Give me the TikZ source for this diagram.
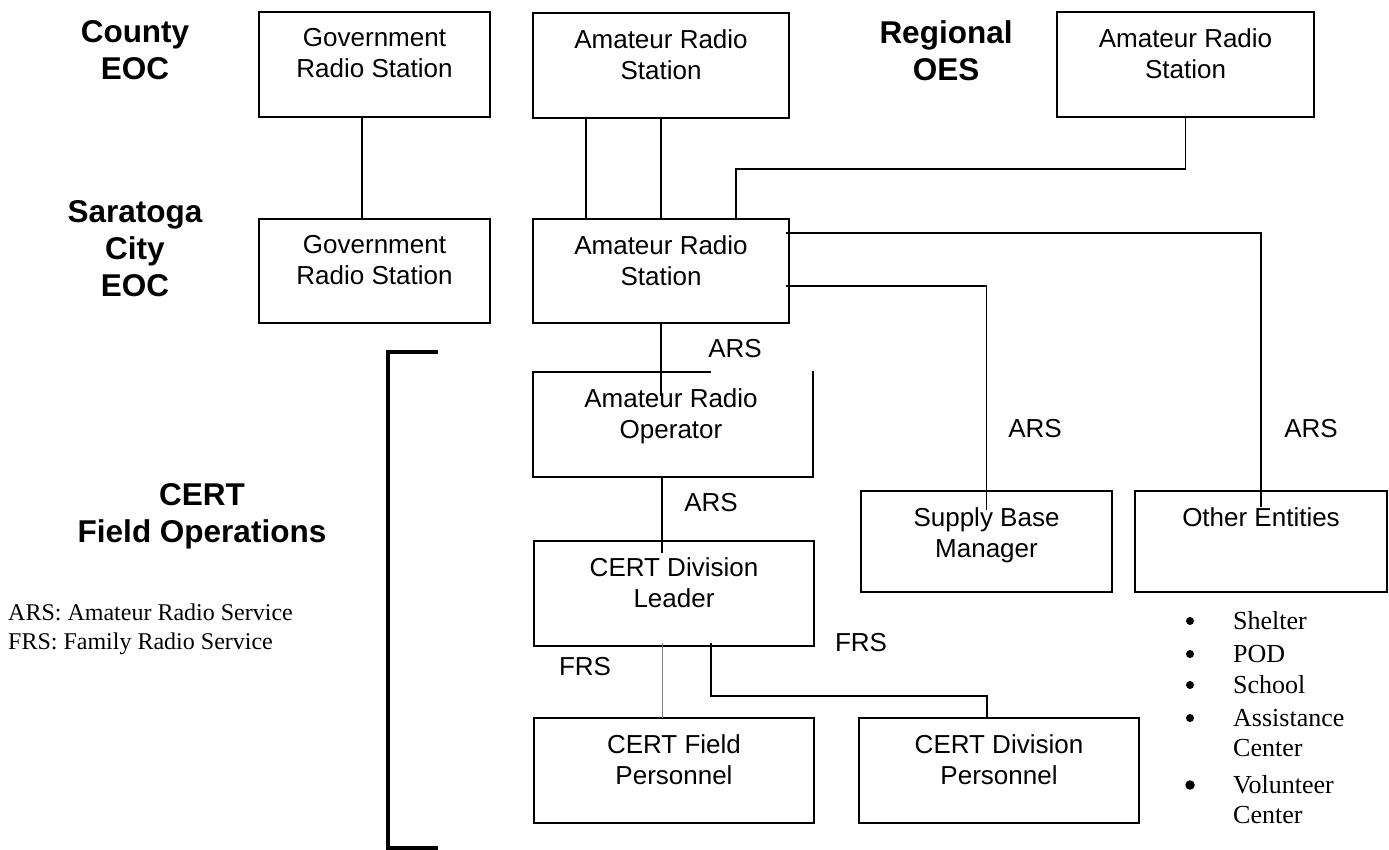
\documentclass[tikz,border=0pt]{standalone}
\usepackage{fontspec}
\setmainfont{Liberation Sans}
\newfontfamily\tnr{Liberation Serif}
\usetikzlibrary{calc}
\begin{document}
\begin{tikzpicture}[x=1pt,y=-1pt,
  box/.style={draw, line width=2.8pt, inner sep=0pt, outer sep=0pt},
  btext/.style={font=\fontsize{26}{31}\selectfont, align=center, inner sep=0pt, anchor=north},
  lbl/.style={font=\fontsize{26}{31}\selectfont, inner sep=0pt},
  head/.style={font=\fontsize{31.5}{37}\selectfont\bfseries, align=center, inner sep=0pt, anchor=north},
  conn/.style={line width=1.4pt},
  faint/.style={line width=0.8pt, gray},
  ltext/.style={font=\tnr\fontsize{26}{32}\selectfont, inner sep=0pt, anchor=base west},
  bul/.style={circle, fill=black, inner sep=0pt, minimum size=8pt},
  legend/.style={font=\tnr\fontsize{24}{29}\selectfont, inner sep=0pt, anchor=base west}]
\useasboundingbox (0,0) rectangle (1389,850);

% headings
\node[head] (hc) at (135,20) {County\\EOC};
\node[head] (hs) at (135,200) {Saratoga\\City\\EOC};
\node[head] (hr) at (946,20) {Regional\\OES};
\node[head] (hf) at (202,483) {CERT\\Field Operations};

% boxes
\node[box, minimum width=231pt, minimum height=105pt] (g1) at (374.5,64.5) {};
\node[box, minimum width=231pt, minimum height=104pt] (g2) at (374.5,271) {};
\node[box, minimum width=256pt, minimum height=105pt] (a1) at (661,65.5) {};
\node[box, minimum width=256pt, minimum height=104pt] (a2) at (661,271) {};
\node[box, minimum width=257pt, minimum height=105pt] (r1) at (1185.5,64.5) {};
\node[box, minimum width=280pt, minimum height=105pt] (op) at (673,424.5) {};
\node[box, minimum width=280pt, minimum height=105pt] (ld) at (674,593.5) {};
\node[box, minimum width=251pt, minimum height=101pt] (sb) at (986.5,541.5) {};
\node[box, minimum width=252pt, minimum height=101pt] (oe) at (1261,541.5) {};
\node[box, minimum width=280pt, minimum height=105pt] (fp) at (674,770.5) {};
\node[box, minimum width=280pt, minimum height=105pt] (dp) at (999,770.5) {};

% box texts
\node[btext] (tg1) at ([yshift=-16pt]g1.north) {Government\\Radio Station};
\node[btext] (tg2) at ([yshift=-16pt]g2.north) {Government\\Radio Station};
\node[btext] (ta1) at ([yshift=-16pt]a1.north) {Amateur Radio\\Station};
\node[btext] (ta2) at ([yshift=-16pt]a2.north) {Amateur Radio\\Station};
\node[btext] (tr1) at ([yshift=-16pt]r1.north) {Amateur Radio\\Station};
\node[btext] (top) at ([xshift=-2pt,yshift=-16pt]op.north) {Amateur Radio\\Operator};
\node[btext] (tld) at ([yshift=-16pt]ld.north) {CERT Division\\Leader};
\node[btext] (tsb) at ([yshift=-16pt]sb.north) {Supply Base\\Manager};
\node[btext] (toe) at ([yshift=-16pt]oe.north) {Other Entities};
\node[btext] (tfp) at ([yshift=-16pt]fp.north) {CERT Field\\Personnel};
\node[btext] (tdp) at ([yshift=-16pt]dp.north) {CERT Division\\Personnel};

% connectors
\draw[conn] ([xshift=-12.5pt]g1.south) -- ([xshift=-12.5pt]g2.north);
\draw[conn] (a1.south) -- (a2.north);
\draw[conn] ([xshift=-75pt]a1.south) -- ([xshift=-75pt]a2.north);
\draw[conn] (r1.south) -- ++(0,52) -| ([xshift=75pt]a2.north);
\draw[conn] ($(a2.north east)+(-3,14)$) -| ($(oe.north)+(0,16)$);
\draw[conn] ($(a2.north east)+(-3,67)$) -| ($(sb.north)+(0,19)$);
\draw[conn] (a2.south) -- ($(a2.south |- op.north)+(0,24)$);
\draw[conn] ($(op.south)+(-11,0)$) -- ($(ld.north)+(-12,12)$);
\draw[faint] ($(ld.south)+(-12,-3)$) -- ($(fp.north)+(-12,0)$);
\draw[conn] ($(ld.south)+(37,-3)$) -- ++(0,53) -| ($(dp.north)+(-12,0)$);

% cover of the operator box top edge under the label
\fill[white] (711,330) rectangle (811.5,374.5);

% labels
\node[lbl] (ars1) at (735,349) {ARS};
\node[lbl] (ars2) at (711,503) {ARS};
\node[lbl] (ars3) at (1035,429) {ARS};
\node[lbl] (ars4) at (1311,429) {ARS};
\node[lbl] (frs1) at (585,667) {FRS};
\node[lbl] (frs2) at (861,643) {FRS};

% bracket
\draw[line width=4pt] (438,352) -| (388,848) -- (438,848);

% legend
\node[legend] (leg1) at (8,620) {ARS: Amateur Radio Service};
\node[legend] (leg2) at (8,649) {FRS: Family Radio Service};

% bullet list
\foreach \t/\y [count=\i] in {Shelter/629, POD/662, School/693, Assistance/726}{
  \node[bul] (bb\i) at (1190,\y-8) {};
  \node[ltext] (bt\i) at (1233,\y) {\t};
}
\node[bul, minimum size=9.5pt] (bb5) at (1190,785) {};
\node[ltext] (bt5) at (1233,793) {Volunteer};
\node[ltext] (bc1) at (1233,756) {Center};
\node[ltext] (bc2) at (1233,823) {Center};
\end{tikzpicture}
\end{document}
